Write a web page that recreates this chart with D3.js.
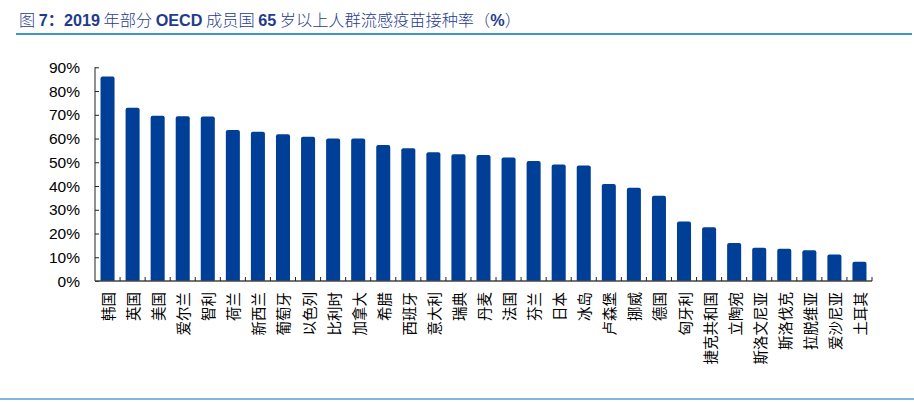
<!DOCTYPE html>
<html>
<head>
<meta charset="utf-8">
<script src="https://cdn.jsdelivr.net/npm/d3@7"></script>
<style>
  body { margin: 0; background: #fff; }
  svg { display: block; }
</style>
</head>
<body>
<svg id="chart"></svg>
<script>
// countries, in chart order
const countries = [
  "韩国", "英国", "美国", "爱尔兰", "智利", "荷兰", "新西兰", "葡萄牙",
  "以色列", "比利时", "加拿大", "希腊", "西班牙", "意大利", "瑞典", "丹麦",
  "法国", "芬兰", "日本", "冰岛", "卢森堡", "挪威", "德国", "匈牙利",
  "捷克共和国", "立陶宛", "斯洛文尼亚", "斯洛伐克", "拉脱维亚", "爱沙尼亚", "土耳其"
];
// vaccination rate of 65+ (%), 2019
const rates = [
  86.1, 73.0, 69.6, 69.4, 69.3, 63.6, 62.9, 61.8,
  60.8, 60.0, 60.0, 57.3, 55.9, 54.2, 53.4, 53.1,
  52.0, 50.5, 49.1, 48.6, 40.9, 39.3, 35.9, 25.1,
  22.6, 16.0, 14.0, 13.6, 12.9, 11.2, 8.1
];
const yTicks = [0, 10, 20, 30, 40, 50, 60, 70, 80, 90];

const width = 914, height = 402;
const blue = "#003f98";
const cjk = "'Noto Sans CJK SC', 'Noto Sans', sans-serif";
const latin = "'Liberation Sans', Arial, sans-serif";

const svg = d3.select("#chart").attr("width", width).attr("height", height);

// title
const title = svg.append("text")
  .attr("x", 19)
  .attr("y", 26)
  .attr("fill", "#1f3c8c")
  .style("font-size", "16.2px");
const parts = [
  ["图 ", false, cjk], ["7", true, latin], ["：", true, cjk], ["2019", true, latin],
  [" 年部分 ", false, cjk], ["OECD", true, latin], [" 成员国 ", false, cjk],
  ["65", true, latin], [" 岁以上人群流感疫苗接种率（", false, cjk],
  ["%", true, latin], ["）", false, cjk]
];
parts.forEach(([t, bold, f]) => {
  title.append("tspan")
    .style("font-family", f)
    .style("font-weight", bold ? "bold" : "300")
    .text(t);
});

// rules at top and bottom
svg.append("line")
  .attr("x1", 16).attr("x2", 912).attr("y1", 34).attr("y2", 34)
  .attr("stroke", "#0070c0").attr("stroke-width", 1.5);
svg.append("line")
  .attr("x1", 0).attr("x2", width).attr("y1", 399).attr("y2", 399)
  .attr("stroke", "#0070c0").attr("stroke-width", 1.2);

// scales
const x = d3.scaleBand()
  .domain(countries)
  .range([95, 872])
  .paddingInner(0.44)
  .paddingOuter(0.22);
const y = d3.scaleLinear()
  .domain([0, 90])
  .range([281, 67.3]);

// bars (slightly rounded tops)
svg.append("g")
  .selectAll("path")
  .data(rates)
  .join("path")
  .attr("fill", blue)
  .attr("d", (d, i) => {
    const x0 = x(countries[i]), w = x.bandwidth();
    const y0 = y(d), y1 = y(0), r = 2;
    return `M${x0},${y1}V${y0 + r}Q${x0},${y0} ${x0 + r},${y0}` +
      `H${x0 + w - r}Q${x0 + w},${y0} ${x0 + w},${y0 + r}V${y1}Z`;
  });

// y axis, ticks pointing inward
const yAxis = svg.append("g")
  .attr("transform", "translate(95,0)")
  .call(d3.axisRight(y).tickValues(yTicks).tickSize(4).tickFormat(""));
yAxis.select(".domain").attr("d", `M0,${y(90)}V${y(0)}`);
yAxis.selectAll("line, path").attr("stroke", "#222");

svg.append("g")
  .selectAll("text")
  .data(yTicks)
  .join("text")
  .attr("x", 80)
  .attr("y", d => y(d))
  .attr("dy", "0.36em")
  .attr("text-anchor", "end")
  .style("font-family", latin)
  .style("font-size", "15.5px")
  .attr("fill", "#000")
  .text(d => d + "%");

// x axis: ticks at band boundaries, pointing up
const step = x.step();
const boundaries = d3.range(countries.length).map(i => x(countries[i]) + x.bandwidth() + step * x.paddingInner() / 2);
const xAxis = svg.append("g");
xAxis.append("line")
  .attr("x1", 95).attr("x2", 872).attr("y1", y(0)).attr("y2", y(0))
  .attr("stroke", "#444").attr("stroke-width", 1.5);
xAxis.selectAll(".tick")
  .data(boundaries)
  .join("line")
  .attr("class", "tick")
  .attr("x1", d => d).attr("x2", d => d)
  .attr("y1", y(0)).attr("y2", y(0) - 4)
  .attr("stroke", "#222");

// vertical category labels
svg.append("g")
  .selectAll("text")
  .data(countries)
  .join("text")
  .attr("transform", d => `translate(${x(d) + x.bandwidth() / 2},292) rotate(-90)`)
  .attr("text-anchor", "end")
  .attr("dominant-baseline", "central")
  .style("font-family", cjk)
  .style("font-size", "14.5px")
  .attr("fill", "#000")
  .text(d => d);
</script>
</body>
</html>
